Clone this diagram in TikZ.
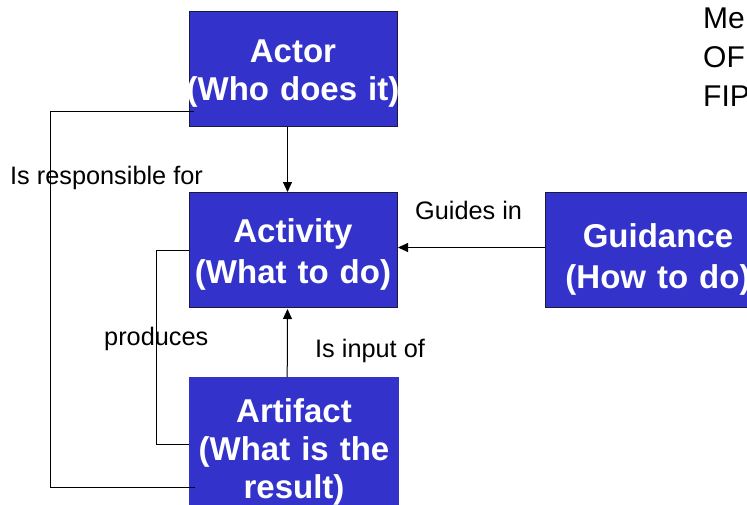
\documentclass[tikz,border=0pt]{standalone}
\usepackage{fontspec}
\setmainfont{Liberation Sans}
\usetikzlibrary{arrows.meta}
\definecolor{boxblue}{HTML}{3333CC}
\definecolor{boxedge}{HTML}{1A1A40}
\begin{document}
\begin{tikzpicture}[x=1pt,y=-1pt,
  conceptbox/.style={fill=boxblue, inner sep=0pt, anchor=north west,
    minimum width=#1, minimum height=115pt},
  framed/.style={draw=boxedge, line width=1pt},
  boxtext/.style={text=white, align=center, text width=260pt, inner sep=0pt,
    anchor=base, font=\bfseries\fontsize{33}{#1}\selectfont},
  boxtext/.default=39,
  lbl/.style={inner sep=0pt, anchor=base west, font=\fontsize{25.3}{30}\selectfont},
  link/.style={line width=1pt, black},
  arrow/.style={link, -{Triangle[length=10pt,width=9pt]}}
]
\useasboundingbox (0,0) rectangle (747,504);
\clip (0,0) rectangle (747,504);
\fill[white] (0,0) rectangle (747,504);

% concept boxes
\node[conceptbox=208pt, framed] (actor) at (189,11) {};
\node[conceptbox=208pt, framed] (activity) at (189,192) {};
\node[conceptbox=210pt, minimum height=143pt] (artifact) at (189,377) {};
\node[conceptbox=226pt, framed] (guidance) at (545,192) {};

% box captions, placed by the baseline of their first line
\node[boxtext=38] (actortext) at (293,62) {Actor\\(Who does it)};
\node[boxtext=41] (activitytext) at (293,242) {Activity\\(What to do)};
\node[boxtext=38] (artifacttext) at (294,422) {Artifact\\(What is the\\result)};
\node[boxtext=41] (guidancetext) at (658,247) {Guidance\\(How to do)};

% relation ends that sit on the box edges
\coordinate (respfrom) at (194,111);
\coordinate (respto) at (195,487);
\coordinate (prodto) at (189,444);

% relations
\draw[arrow] ([xshift=-6pt]actor.south) -- ([xshift=-6pt]activity.north);
\draw[arrow] ([xshift=-7pt]artifact.north) -- ([xshift=-6pt,yshift=-1pt]activity.south);
\draw[arrow] ([yshift=2.5pt]guidance.west) -- ([yshift=2.5pt]activity.east);
\draw[link] (respfrom) -| (50,487) -- (respto);
\draw[link] ([yshift=-0.5pt]activity.west) -| (156,444) -- (prodto);

% relation labels
\node[lbl] (resplbl) at (10,184) {Is responsible for};
\node[lbl] (guidelbl) at (415,219) {Guides in};
\node[lbl] (prodlbl) at (104,345) {produces};
\node[lbl] (inputlbl) at (315,357) {Is input of};

% heading at the top right
\node[anchor=base west, inner sep=0pt, align=left, text width=80pt,
  font=\fontsize{30}{39}\selectfont] (heading) at (703,28) {Me\\OF\\FIP};
\end{tikzpicture}
\end{document}
